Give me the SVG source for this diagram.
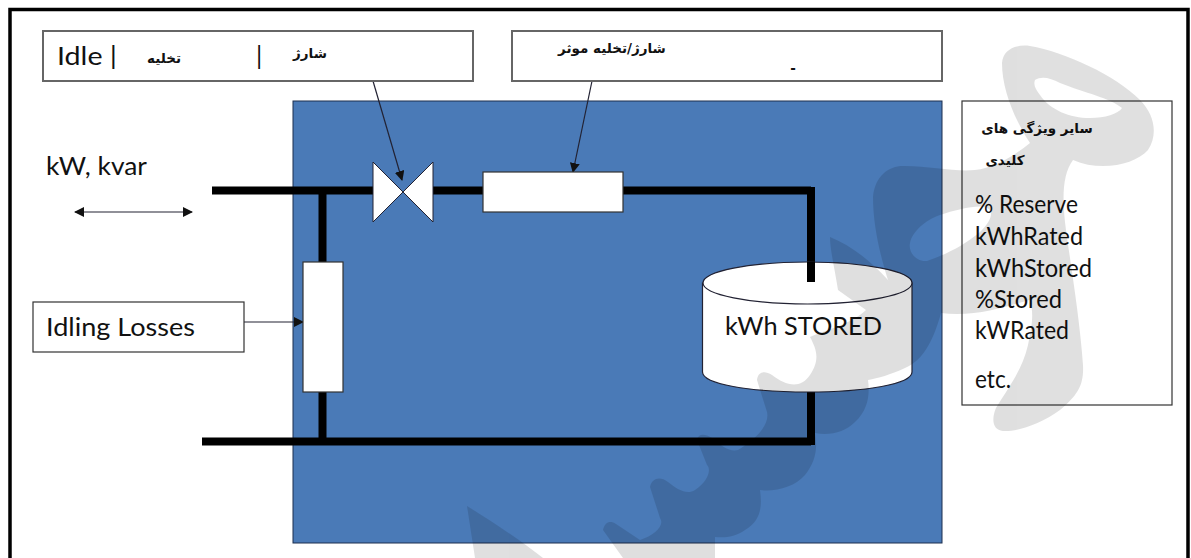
<svg xmlns="http://www.w3.org/2000/svg" width="1191" height="558" viewBox="0 0 1191 558">
<style>
.lat{font-family:"Lato","Liberation Sans",sans-serif;font-size:25px;fill:#111}
.fa{font-family:"DejaVu Sans",sans-serif;font-size:13.500px;font-weight:bold;fill:#111}
.box{fill:#fff;stroke:#666;stroke-width:2}
.thin{fill:#fff;stroke:#333;stroke-width:1.2}
.pipe{fill:none;stroke:#000;stroke-width:8}
.lead{fill:none;stroke:#223;stroke-width:1.2}
</style>
<defs>
<marker id="ah" viewBox="0 0 10 10" refX="9" refY="5" markerWidth="10" markerHeight="10" markerUnits="userSpaceOnUse" orient="auto-start-reverse"><path d="M0 0L10 5L0 10Z" fill="#111"/></marker>
</defs>
<rect width="1191" height="558" fill="#fff"/>
<path id="frame" d="M10 558V9.500H1188V558" fill="none" stroke="#000" stroke-width="3.500"/>
<rect id="plant" x="293" y="101" width="649" height="442" fill="#4a7ab7" stroke="#1c2f4f" stroke-width="1"/>
<g id="connectors">
<path class="pipe" d="M212 190.500H373M433 190.500H811M811 187V282"/>
<path class="pipe" d="M202 441.500H811M811 392V445M322.500 190V441"/>
<path class="lead" d="M373 81L402 180" marker-end="url(#ah)"/>
<path class="lead" d="M592 81L573 172" marker-end="url(#ah)"/>
<path class="lead" d="M244 322H303" marker-end="url(#ah)"/>
<path class="lead" d="M75 212H192" marker-start="url(#ah)" marker-end="url(#ah)"/>
</g>
<g id="mode-box"><rect class="box" x="43" y="31" width="430" height="50"/>
<text class="lat" x="57" y="65" textLength="60" lengthAdjust="spacingAndGlyphs">Idle |</text>
<text class="fa" x="164" y="63" text-anchor="middle" direction="rtl">تخلیه</text>
<text class="lat" x="256" y="65" fill="#222">|</text>
<text class="fa" x="310" y="58" text-anchor="middle" direction="rtl">شارژ</text></g>
<g id="rate-box"><rect class="box" x="512" y="31" width="430" height="50"/>
<text class="fa" x="612" y="53" text-anchor="middle" direction="rtl">شارژ/تخلیه موثر</text>
<text class="fa" x="793" y="73" text-anchor="middle">-</text></g>
<g id="props-box"><rect class="thin" x="962" y="101" width="210" height="304"/>
<text class="fa" x="1037" y="133" text-anchor="middle" direction="rtl">سایر ویژگی های</text>
<text class="fa" x="1005" y="165" text-anchor="middle" direction="rtl">کلیدی</text>
<text class="lat" x="975" y="213" textLength="103" lengthAdjust="spacingAndGlyphs">% Reserve</text>
<text class="lat" x="975" y="245" textLength="108" lengthAdjust="spacingAndGlyphs">kWhRated</text>
<text class="lat" x="975" y="277" textLength="117" lengthAdjust="spacingAndGlyphs">kWhStored</text>
<text class="lat" x="975" y="308" textLength="87" lengthAdjust="spacingAndGlyphs">%Stored</text>
<text class="lat" x="975" y="339" textLength="94" lengthAdjust="spacingAndGlyphs">kWRated</text>
<text class="lat" x="975" y="388" textLength="36" lengthAdjust="spacingAndGlyphs">etc.</text></g>
<g id="power-label"><text class="lat" x="46" y="175" textLength="101" lengthAdjust="spacingAndGlyphs">kW, kvar</text></g>
<g id="idling-box"><rect class="thin" x="33" y="302" width="211" height="50"/>
<text class="lat" x="46" y="336" textLength="149" lengthAdjust="spacingAndGlyphs">Idling Losses</text></g>
<g id="valve"><path d="M373 162L433 222V162L373 222Z" fill="#fff" stroke="#223" stroke-width="1"/></g>
<g id="charge-rect"><rect class="thin" x="483" y="172" width="140" height="40"/></g>
<g id="idle-rect"><rect class="thin" x="303" y="262" width="40" height="130"/></g>
<g id="storage">
<path d="M702.500 283V372C702.500 384 749 392 807.500 392S912 384 912 372V283Z" fill="#fff" stroke="#223" stroke-width="1.200"/>
<ellipse cx="807.500" cy="283" rx="104.500" ry="21" fill="#fff" stroke="#223" stroke-width="1.200"/>
<path class="pipe" d="M811 262V282"/>
<text class="lat" x="725" y="335" textLength="157" lengthAdjust="spacingAndGlyphs">kWh STORED</text>
</g>
<g id="watermark" opacity=".12" fill="#000" fill-rule="evenodd">
<path d="M1002 63C1003 50 1015 44 1030 46C1065 52 1115 75 1140 100C1155 115 1158 135 1148 150C1135 165 1100 172 1073 160C1062 175 1062 200 1066 230C1070 260 1080 320 1083 365C1084 385 1078 395 1060 410C1040 425 1015 432 1003 431C993 430 991 420 996 408C1010 385 1022 370 1028 345C1032 325 1034 315 1030 300C1010 305 975 318 941 313C915 310 895 300 888 280C880 255 873 225 873 197C875 175 890 165 905 166C930 166 955 172 975 170C995 168 1015 155 1030 143C1015 120 1002 90 1002 63ZM1035 80C1042 76 1050 78 1060 83C1085 93 1110 98 1122 108C1118 114 1105 118 1090 118C1070 118 1050 110 1040 95C1036 90 1033 85 1035 80ZM910 243C912 232 925 220 940 215C955 210 975 205 985 207C995 210 992 220 980 232C965 245 945 255 927 261C916 262 908 252 910 243Z"/>
<path d="M830 237C850 245 870 260 888 280L941 313C935 335 925 360 905 368C890 375 878 378 868 380C870 395 868 410 855 422C845 432 830 436 815 433C818 450 815 462 805 475C795 487 775 492 760 490C762 505 762 520 745 530C735 537 725 538 715 537L715 558L623 558L603 530C605 522 610 520 616 524L640 540C655 535 665 525 660 518L650 487C652 478 660 476 668 482C678 490 687 495 695 490C707 482 712 470 707 465L697 440C698 434 704 433 712 438C722 447 730 452 738 450C755 440 770 425 767 412L757 380C758 372 764 370 772 375C785 385 800 390 810 375C820 360 817 350 810 337C825 330 850 325 866 310L838 290C835 270 830 250 830 237Z"/>
<path d="M467 506C490 520 520 540 543 558H475Z"/>
</g>
</svg>
